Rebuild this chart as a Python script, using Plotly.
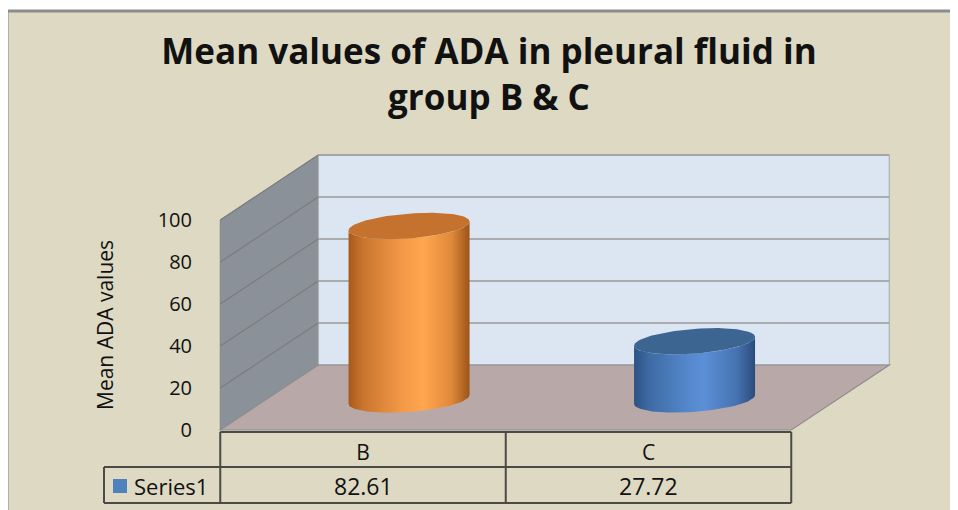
import numpy as np
import plotly.graph_objects as go

# ---------------- data ----------------
categories = ["B", "C"]
values = [82.61, 27.72]
value_labels = ["82.61", "27.72"]
series_name = "Series1"
tick_values = [0, 20, 40, 60, 80, 100]
tick_labels = ["0", "20", "40", "60", "80", "100"]
title_text = "Mean values of ADA in pleural fluid in<br>group B & C"
y_title = "Mean ADA values"

# ---------------- styling / geometry (not data) ----------------
W, H = 958, 510
OFF = 8.0                 # page body margin compensation
def fx(px):               # page pixel -> figure pixel
    return px - OFF
PX_PER_CAT = 285.5
X0_PX = fx(363.0)
PX_PER_VAL = 2.1
Y0_PX = fx(430.0)
xrange_ = [(0 - X0_PX) / PX_PER_CAT, (W - X0_PX) / PX_PER_CAT]
yrange_ = [-(H - Y0_PX) / PX_PER_VAL, Y0_PX / PX_PER_VAL]

def dxv(px):              # page x pixel -> data x
    return (fx(px) - X0_PX) / PX_PER_CAT
def dyv(py):              # page y pixel -> data y
    return (Y0_PX - fx(py)) / PX_PER_VAL

DX = 98 / PX_PER_CAT
DY = 65 / PX_PER_VAL
YMAX = 100
XL, XR = -0.5, len(categories) - 0.5
DEPTH = 0.47
RX = 60.5 / PX_PER_CAT
RY = 12.4 / PX_PER_VAL
TILT = 2.1

BG = "#DDD9C3"
SIDE = "#8B9198"
BACK = "#DCE6F2"
FLOOR = "#B9A8A8"
GRID = "#9A9A9A"
TABLE_LINE = "#4A4A46"
BORDER = "#8C8C8C"
FONT = "Open Sans"
TFONT = "Open Sans"
TXT = "#111111"

body_scales = [
    [[0, "#A8591B"], [0.12, "#C9752F"], [0.45, "#F49A47"], [0.62, "#FFA64F"], [0.85, "#E0893A"], [1, "#9C5418"]],
    [[0, "#2C5283"], [0.12, "#3D6AA3"], [0.45, "#5588CC"], [0.58, "#5B8FD6"], [0.85, "#4673B0"], [1, "#2A4C7C"]],
]
top_colors = ["#C4722E", "#3C6592"]
key_color = "#4F81BD"

fig = go.Figure()

# ---------------- cylinders ----------------
t_front = np.linspace(np.pi, 2 * np.pi, 60)
t_full = np.linspace(0, 2 * np.pi, 120)
for i, (cat, v) in enumerate(zip(categories, values)):
    cx = i + DEPTH * DX
    base = DEPTH * DY
    top = base + v
    bx = cx + RX * np.cos(t_front)
    by = base + RY * np.sin(t_front) + TILT * np.cos(t_front)
    tx = cx + RX * np.cos(t_front[::-1])
    ty = top + RY * np.sin(t_front[::-1]) + TILT * np.cos(t_front[::-1])
    xs = np.concatenate([bx, tx, bx[:1]])
    ys = np.concatenate([by, ty, by[:1]])
    fig.add_trace(go.Scatter(
        x=xs, y=ys, mode="lines", fill="toself", line=dict(width=0),
        fillcolor=top_colors[i],
        fillgradient=dict(type="horizontal", colorscale=body_scales[i]),
        hoverinfo="skip", showlegend=False))
    ex = cx + RX * np.cos(t_full)
    ey = top + RY * np.sin(t_full) + TILT * np.cos(t_full)
    fig.add_trace(go.Scatter(
        x=ex, y=ey, mode="lines", fill="toself", line=dict(width=0),
        fillcolor=top_colors[i], name=cat, text=[f"{cat}: {v}"] * len(ex),
        hoverinfo="text", showlegend=False))

# legend key in table
fig.add_trace(go.Scatter(
    x=[dxv(120)], y=[dyv(486)], mode="markers",
    marker=dict(symbol="square", size=14, color=key_color),
    hoverinfo="skip", showlegend=False))
fig.add_annotation(x=dxv(132), y=dyv(486), text=series_name, showarrow=False, xanchor="left",
                   font=dict(family=FONT, size=22, color=TXT))

# value row
for i, lab in enumerate(value_labels):
    fig.add_annotation(x=i, y=dyv(486), text=lab, showarrow=False,
                       font=dict(family=FONT, size=23, color=TXT))

# y axis title
fig.add_annotation(x=dxv(105), y=dyv(325), text=y_title, textangle=-90, showarrow=False,
                   font=dict(family=FONT, size=21, color=TXT))

# dummy for y2
fig.add_trace(go.Scatter(x=[0], y=[0], yaxis="y2", mode="markers",
                         marker=dict(opacity=0), hoverinfo="skip", showlegend=False))

# ---------------- shapes ----------------
shapes = []
bx0 = fx(7.0) / W
by1 = 1 - fx(11) / H
shapes.append(dict(type="rect", xref="paper", yref="paper", x0=bx0, x1=1.0,
                   y0=0.0, y1=by1, fillcolor=BG, line=dict(width=0), layer="below"))
shapes.append(dict(type="line", xref="paper", yref="paper", x0=bx0, x1=1.0, y0=by1, y1=by1,
                   line=dict(color=BORDER, width=3), layer="below"))
shapes.append(dict(type="line", xref="paper", yref="paper", x0=bx0, x1=bx0, y0=0.0, y1=by1,
                   line=dict(color=BORDER, width=3), layer="below"))

def poly(pts, fill, line_color=None, lw=0):
    path = "M " + " L ".join(f"{x},{y}" for x, y in pts) + " Z"
    return dict(type="path", xref="x", yref="y", path=path, fillcolor=fill,
                line=dict(color=line_color or fill, width=lw), layer="below")

shapes.append(poly([(XL, 0), (XL, YMAX), (XL + DX, YMAX + DY), (XL + DX, DY)], SIDE, "#80858B", 1))
shapes.append(poly([(XL + DX, DY), (XL + DX, YMAX + DY), (XR + DX, YMAX + DY), (XR + DX, DY)], BACK, "#A5A5A5", 1))
for tv in tick_values[1:]:
    shapes.append(dict(type="line", xref="x", yref="y", x0=XL, y0=tv, x1=XL + DX, y1=tv + DY,
                       line=dict(color="#7A7C80", width=1.2), layer="below"))
    shapes.append(dict(type="line", xref="x", yref="y", x0=XL + DX, y0=tv + DY, x1=XR + DX, y1=tv + DY,
                       line=dict(color=GRID, width=1.5), layer="below"))
shapes.append(poly([(XL, 0), (XR, 0), (XR + DX, DY), (XL + DX, DY)], FLOOR, "#8E8E8E", 1.2))

ytop = dyv(432)
ymid = dyv(467)
ybot = dyv(503)
xkey = dxv(104)
tl = dict(color=TABLE_LINE, width=2)
shapes += [
    dict(type="line", xref="x", yref="y", x0=XL, x1=XR, y0=ytop, y1=ytop, line=tl),
    dict(type="line", xref="x", yref="y", x0=xkey, x1=XR, y0=ymid, y1=ymid, line=tl),
    dict(type="line", xref="x", yref="y", x0=xkey, x1=XR, y0=ybot, y1=ybot, line=tl),
    dict(type="line", xref="x", yref="y", x0=xkey, x1=xkey, y0=ymid, y1=ybot, line=tl),
]
for xv in [XL + k for k in range(len(categories) + 1)]:
    shapes.append(dict(type="line", xref="x", yref="y", x0=xv, x1=xv, y0=ytop, y1=ybot, line=tl))

fig.update_layout(
    width=W, height=H,
    margin=dict(l=0, r=0, t=0, b=0),
    paper_bgcolor="white", plot_bgcolor="rgba(0,0,0,0)",
    shapes=shapes,
    title=dict(text=title_text, x=fx(489) / W, xanchor="center", y=1 - fx(64) / H, yanchor="top",
               font=dict(family=TFONT, size=35, color=TXT, weight="bold")),
    xaxis=dict(range=xrange_, showgrid=False, zeroline=False, showline=False,
               tickvals=list(range(len(categories))), ticktext=categories, ticks="",
               anchor="free", position=1 - fx(438) / H,
               tickfont=dict(family=FONT, size=21, color=TXT), fixedrange=True),
    yaxis=dict(range=yrange_, visible=False, fixedrange=True),
    yaxis2=dict(range=yrange_, overlaying="y", anchor="free", position=fx(192) / W, side="left",
                tickvals=tick_values, ticktext=tick_labels, ticks="", showgrid=False,
                zeroline=False, showline=False,
                tickfont=dict(family=FONT, size=20, color=TXT),
                fixedrange=True),
    showlegend=False,
)

fig.write_html("out.html")
